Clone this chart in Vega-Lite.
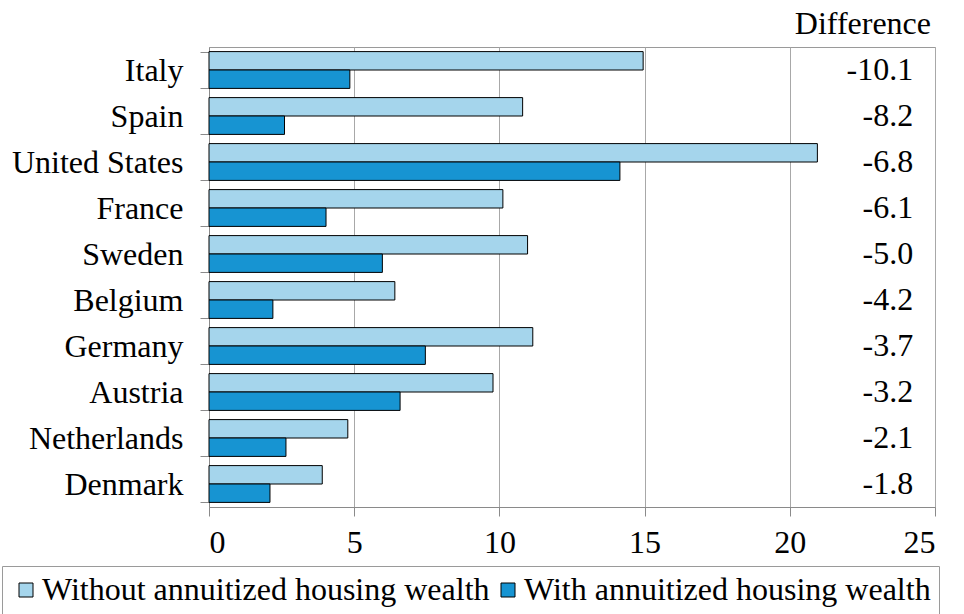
{
  "$schema": "https://vega.github.io/schema/vega-lite/v6.json",
  "width": 726,
  "height": 460,
  "autosize": {"type": "none"},
  "padding": {"left": 209, "top": 47, "right": 29, "bottom": 107},
  "background": "white",
  "config": {
    "font": "Liberation Serif",
    "view": {"stroke": "#9a9a9a", "strokeWidth": 1},
    "axis": {"labelFont": "Liberation Serif", "labelColor": "black", "labelFontSize": 32, "domainColor": "#8a8a8a", "tickColor": "#8a8a8a", "gridColor": "#a8a8a8", "tickSize": 9},
    "legend": {"labelFont": "Liberation Serif"},
    "title": {"font": "Liberation Serif"},
    "text": {"font": "Liberation Serif"}
  },
  "title": {"text": "Difference", "anchor": "end", "frame": "group", "fontSize": 32, "fontWeight": "normal", "color": "black", "offset": -10, "dx": -4},
  "datasets": {
    "bars": [
      {"country": "Italy", "series": "Without annuitized housing wealth", "value": 14.95},
      {"country": "Italy", "series": "With annuitized housing wealth", "value": 4.85},
      {"country": "Spain", "series": "Without annuitized housing wealth", "value": 10.8},
      {"country": "Spain", "series": "With annuitized housing wealth", "value": 2.6},
      {"country": "United States", "series": "Without annuitized housing wealth", "value": 20.95},
      {"country": "United States", "series": "With annuitized housing wealth", "value": 14.15},
      {"country": "France", "series": "Without annuitized housing wealth", "value": 10.12},
      {"country": "France", "series": "With annuitized housing wealth", "value": 4.03},
      {"country": "Sweden", "series": "Without annuitized housing wealth", "value": 10.97},
      {"country": "Sweden", "series": "With annuitized housing wealth", "value": 5.97},
      {"country": "Belgium", "series": "Without annuitized housing wealth", "value": 6.4},
      {"country": "Belgium", "series": "With annuitized housing wealth", "value": 2.2},
      {"country": "Germany", "series": "Without annuitized housing wealth", "value": 11.15},
      {"country": "Germany", "series": "With annuitized housing wealth", "value": 7.45},
      {"country": "Austria", "series": "Without annuitized housing wealth", "value": 9.78},
      {"country": "Austria", "series": "With annuitized housing wealth", "value": 6.58},
      {"country": "Netherlands", "series": "Without annuitized housing wealth", "value": 4.78},
      {"country": "Netherlands", "series": "With annuitized housing wealth", "value": 2.65},
      {"country": "Denmark", "series": "Without annuitized housing wealth", "value": 3.9},
      {"country": "Denmark", "series": "With annuitized housing wealth", "value": 2.1}
    ],
    "diffs": [
      {"country": "Italy", "difference": "-10.1"},
      {"country": "Spain", "difference": "-8.2"},
      {"country": "United States", "difference": "-6.8"},
      {"country": "France", "difference": "-6.1"},
      {"country": "Sweden", "difference": "-5.0"},
      {"country": "Belgium", "difference": "-4.2"},
      {"country": "Germany", "difference": "-3.7"},
      {"country": "Austria", "difference": "-3.2"},
      {"country": "Netherlands", "difference": "-2.1"},
      {"country": "Denmark", "difference": "-1.8"}
    ]
  },
  "layer": [
    {
      "data": {"name": "bars"},
      "mark": {"type": "bar", "stroke": "black", "strokeWidth": 1},
      "encoding": {
        "y": {
          "field": "country", "type": "nominal",
          "sort": ["Italy", "Spain", "United States", "France", "Sweden", "Belgium", "Germany", "Austria", "Netherlands", "Denmark"],
          "scale": {"paddingInner": 0.2, "paddingOuter": 0.1},
          "axis": {"title": null, "tickBand": "extent", "labelPadding": 17, "grid": false}
        },
        "yOffset": {
          "field": "series", "type": "nominal",
          "sort": ["Without annuitized housing wealth", "With annuitized housing wealth"],
          "scale": {"paddingInner": 0, "paddingOuter": 0}
        },
        "x": {
          "field": "value", "type": "quantitative",
          "scale": {"domain": [0, 25], "nice": false},
          "axis": {"title": null, "values": [0, 5, 10, 15, 20, 25], "grid": true, "labelPadding": 11}
        },
        "color": {
          "field": "series", "type": "nominal",
          "sort": ["Without annuitized housing wealth", "With annuitized housing wealth"],
          "scale": {"range": ["#a5d5ec", "#1794d2"]},
          "legend": {
            "title": null, "orient": "none", "direction": "horizontal",
            "legendX": -207, "legendY": 519,
            "symbolType": "square", "symbolSize": 196, "symbolStrokeColor": "black", "symbolStrokeWidth": 1,
            "labelFontSize": 32, "labelColor": "black", "labelLimit": 600,
            "labelOffset": 0, "columnPadding": 2,
            "strokeColor": "#9a9a9a", "padding": 8, "fillColor": "white"
          }
        }
      }
    },
    {
      "data": {"name": "diffs"},
      "mark": {"type": "text", "align": "right", "baseline": "middle", "fontSize": 32, "color": "black"},
      "encoding": {
        "y": {"field": "country", "type": "nominal", "sort": ["Italy", "Spain", "United States", "France", "Sweden", "Belgium", "Germany", "Austria", "Netherlands", "Denmark"]},
        "x": {"datum": 24.25, "type": "quantitative"},
        "text": {"field": "difference"}
      }
    }
  ]
}
